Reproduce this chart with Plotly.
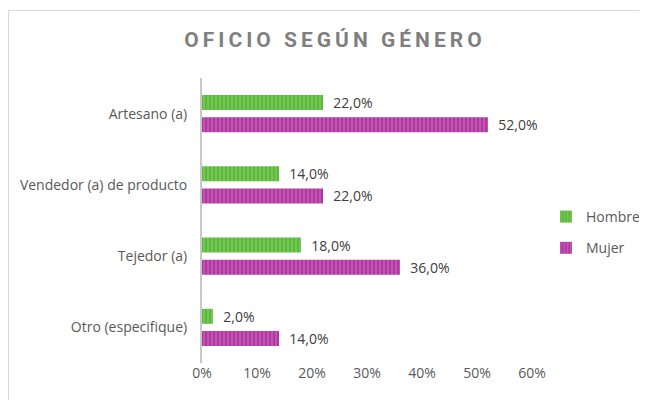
import plotly.graph_objects as go

categories = ["Artesano (a)", "Vendedor (a) de producto", "Tejedor (a)", "Otro (especifique)"]
hombre = [0.22, 0.14, 0.18, 0.02]
mujer = [0.52, 0.22, 0.36, 0.14]
x_ticks = [0, 0.1, 0.2, 0.3, 0.4, 0.5, 0.6]
x_tick_labels = ["0%", "10%", "20%", "30%", "40%", "50%", "60%"]

font_family = "Open Sans, sans-serif"

fig = go.Figure()
fig.add_trace(go.Bar(
    y=categories, x=hombre, name="Hombre", orientation="h", legendgroup="h",
    marker=dict(color="#5cb83a", line=dict(width=0),
                pattern=dict(shape="|", fgcolor="#a6dc8c", bgcolor="#5cb83a", size=4, solidity=0.35)),
    texttemplate="\u00a0\u00a0%{x:.1%}", textposition="outside", constraintext="none",
    textfont=dict(size=14, color="#404040", family=font_family),
    cliponaxis=False,
))
fig.add_trace(go.Bar(
    y=categories, x=mujer, name="Mujer", orientation="h", legendgroup="m",
    marker=dict(color="#b0379f", line=dict(width=0),
                pattern=dict(shape="|", fgcolor="#dc8fd3", bgcolor="#b0379f", size=4, solidity=0.35)),
    texttemplate="\u00a0\u00a0%{x:.1%}", textposition="outside", constraintext="none",
    textfont=dict(size=14, color="#404040", family=font_family),
    cliponaxis=False,
))

# page is rendered with an 8px body margin; figure coordinates = page - 8
W, H = 639, 392
L, R, T, B = 194, 115, 70, 37
pw, ph = W - L - R, H - T - B

def px_to_paper_x(px):
    return (px - L) / pw

def px_to_paper_y(py):
    return (H - B - py) / ph

fig.add_shape(type="rect", xref="paper", yref="paper",
              x0=px_to_paper_x(0.5), x1=px_to_paper_x(638.5),
              y0=px_to_paper_y(420), y1=px_to_paper_y(2.5),
              line=dict(color="#d9d9d9", width=1), fillcolor="rgba(0,0,0,0)", layer="below")

fig.update_layout(
    width=W, height=H,
    margin=dict(l=L, r=R, t=T, b=B, autoexpand=False),
    paper_bgcolor="white", plot_bgcolor="white",
    separators=",.",
    barmode="group", bargap=0.38, bargroupgap=0.32,
    title=dict(text='<span style="letter-spacing:4px">OFICIO SEGÚN GÉNERO</span>',
               x=327 / W, xref="container", xanchor="center",
               y=1 - 32 / H, yref="container", yanchor="middle",
               font=dict(size=21, color="#7f7f7f", family="Roboto, sans-serif", weight="bold")),
    xaxis=dict(range=[0, 0.6], tickvals=x_ticks, ticktext=x_tick_labels, automargin=False,
               showgrid=False, zeroline=False, showline=False,
               tickfont=dict(size=14, color="#595959", family=font_family), ticks=""),
    yaxis=dict(autorange="reversed", showgrid=False, zeroline=False, automargin=False,
               showline=True, linecolor="#c8c8c8", linewidth=2, ticks="",
               ticklabelstandoff=10,
               tickfont=dict(size=14, color="#595959", family=font_family)),
    legend=dict(x=538 / W, y=1 - 193 / H, xref="container", yref="container",
                xanchor="left", yanchor="top", traceorder="grouped",
                font=dict(size=14, color="#595959", family=font_family),
                itemwidth=30, tracegroupgap=10, bgcolor="rgba(0,0,0,0)"),
    showlegend=True,
)

fig.write_html("out.html")
